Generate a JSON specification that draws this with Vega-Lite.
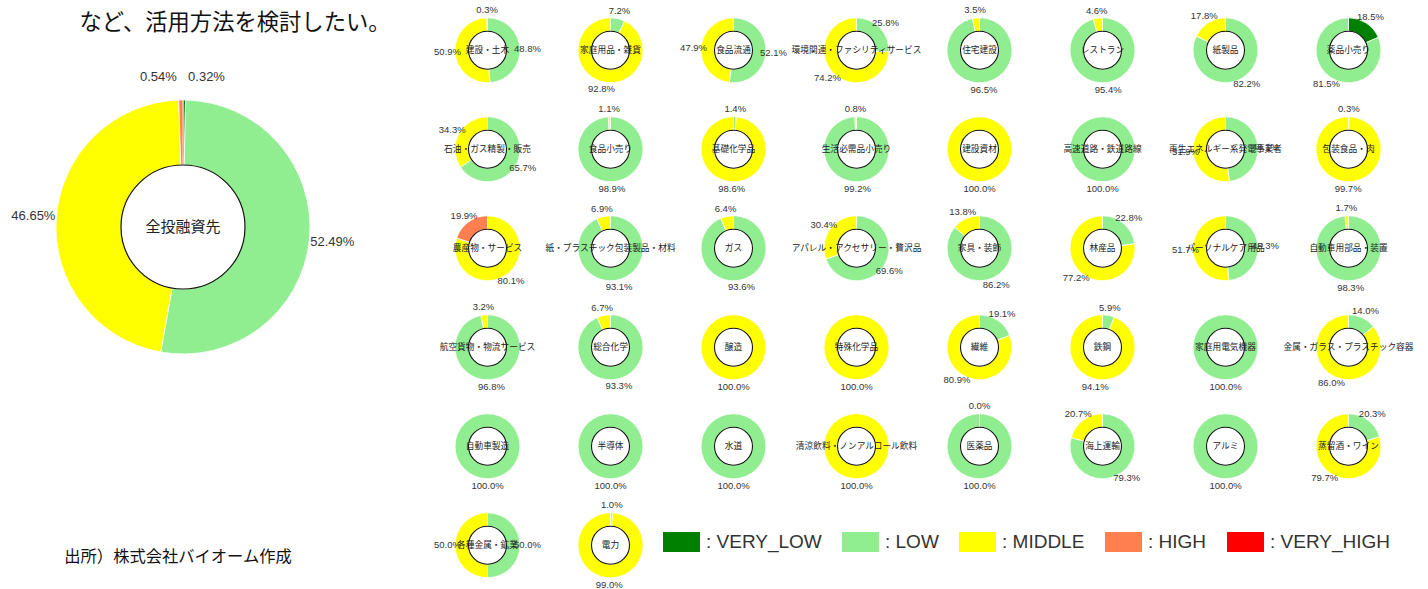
{
  "$schema": "https://vega.github.io/schema/vega-lite/v6.json",
  "padding": 0,
  "autosize": {"type": "pad"},
  "background": "white",
  "spacing": 30,
  "config": {
    "view": {"stroke": null},
    "header": {"labels": false, "title": null, "labelPadding": 0, "titlePadding": 0, "labelExpr": "''", "labelFontSize": 1},
    "headerFacet": {"labels": false, "title": null, "labelPadding": 0, "titlePadding": 0, "labelExpr": "''", "labelFontSize": 1}
  },
  "resolve": {"scale": {"color": "shared"}, "legend": {"color": "shared"}},
  "datasets": {
    "total": [
      {"industry": "全投融資先", "level": "VERY_LOW", "rank": 1, "pct": 0.0032},
      {"industry": "全投融資先", "level": "LOW", "rank": 2, "pct": 0.5249},
      {"industry": "全投融資先", "level": "MIDDLE", "rank": 3, "pct": 0.4665},
      {"industry": "全投融資先", "level": "HIGH", "rank": 4, "pct": 0.0054}
    ],
    "inds": [
      {"industry": "建設・土木", "level": "LOW", "rank": 2, "pct": 0.488},
      {"industry": "建設・土木", "level": "MIDDLE", "rank": 3, "pct": 0.509},
      {"industry": "建設・土木", "level": "HIGH", "rank": 4, "pct": 0.003},
      {"industry": "家庭用品・雑貨", "level": "LOW", "rank": 2, "pct": 0.072},
      {"industry": "家庭用品・雑貨", "level": "MIDDLE", "rank": 3, "pct": 0.928},
      {"industry": "食品流通", "level": "LOW", "rank": 2, "pct": 0.521},
      {"industry": "食品流通", "level": "MIDDLE", "rank": 3, "pct": 0.479},
      {"industry": "環境関連・ファシリティサービス", "level": "LOW", "rank": 2, "pct": 0.258},
      {"industry": "環境関連・ファシリティサービス", "level": "MIDDLE", "rank": 3, "pct": 0.742},
      {"industry": "住宅建設", "level": "LOW", "rank": 2, "pct": 0.965},
      {"industry": "住宅建設", "level": "MIDDLE", "rank": 3, "pct": 0.035},
      {"industry": "レストラン", "level": "LOW", "rank": 2, "pct": 0.954},
      {"industry": "レストラン", "level": "MIDDLE", "rank": 3, "pct": 0.046},
      {"industry": "紙製品", "level": "LOW", "rank": 2, "pct": 0.822},
      {"industry": "紙製品", "level": "MIDDLE", "rank": 3, "pct": 0.178},
      {"industry": "薬品小売り", "level": "VERY_LOW", "rank": 1, "pct": 0.185},
      {"industry": "薬品小売り", "level": "LOW", "rank": 2, "pct": 0.815},
      {"industry": "石油・ガス精製・販売", "level": "LOW", "rank": 2, "pct": 0.657},
      {"industry": "石油・ガス精製・販売", "level": "MIDDLE", "rank": 3, "pct": 0.343},
      {"industry": "食品小売り", "level": "LOW", "rank": 2, "pct": 0.989},
      {"industry": "食品小売り", "level": "MIDDLE", "rank": 3, "pct": 0.011},
      {"industry": "基礎化学品", "level": "LOW", "rank": 2, "pct": 0.014},
      {"industry": "基礎化学品", "level": "MIDDLE", "rank": 3, "pct": 0.986},
      {"industry": "生活必需品小売り", "level": "LOW", "rank": 2, "pct": 0.992},
      {"industry": "生活必需品小売り", "level": "MIDDLE", "rank": 3, "pct": 0.008},
      {"industry": "建設資材", "level": "MIDDLE", "rank": 3, "pct": 1.0},
      {"industry": "高速道路・鉄道路線", "level": "LOW", "rank": 2, "pct": 1.0},
      {"industry": "再生エネルギー系発電事業者", "level": "LOW", "rank": 2, "pct": 0.481},
      {"industry": "再生エネルギー系発電事業者", "level": "MIDDLE", "rank": 3, "pct": 0.519},
      {"industry": "包装食品・肉", "level": "LOW", "rank": 2, "pct": 0.003},
      {"industry": "包装食品・肉", "level": "MIDDLE", "rank": 3, "pct": 0.997},
      {"industry": "農産物・サービス", "level": "MIDDLE", "rank": 3, "pct": 0.801},
      {"industry": "農産物・サービス", "level": "HIGH", "rank": 4, "pct": 0.199},
      {"industry": "紙・プラスチック包装製品・材料", "level": "LOW", "rank": 2, "pct": 0.931},
      {"industry": "紙・プラスチック包装製品・材料", "level": "MIDDLE", "rank": 3, "pct": 0.069},
      {"industry": "ガス", "level": "LOW", "rank": 2, "pct": 0.936},
      {"industry": "ガス", "level": "MIDDLE", "rank": 3, "pct": 0.064},
      {"industry": "アパレル・アクセサリー・贅沢品", "level": "LOW", "rank": 2, "pct": 0.696},
      {"industry": "アパレル・アクセサリー・贅沢品", "level": "MIDDLE", "rank": 3, "pct": 0.304},
      {"industry": "家具・装飾", "level": "LOW", "rank": 2, "pct": 0.862},
      {"industry": "家具・装飾", "level": "MIDDLE", "rank": 3, "pct": 0.138},
      {"industry": "林産品", "level": "LOW", "rank": 2, "pct": 0.228},
      {"industry": "林産品", "level": "MIDDLE", "rank": 3, "pct": 0.772},
      {"industry": "パーソナルケア用品", "level": "LOW", "rank": 2, "pct": 0.483},
      {"industry": "パーソナルケア用品", "level": "MIDDLE", "rank": 3, "pct": 0.517},
      {"industry": "自動車用部品・装置", "level": "LOW", "rank": 2, "pct": 0.983},
      {"industry": "自動車用部品・装置", "level": "MIDDLE", "rank": 3, "pct": 0.017},
      {"industry": "航空貨物・物流サービス", "level": "LOW", "rank": 2, "pct": 0.968},
      {"industry": "航空貨物・物流サービス", "level": "MIDDLE", "rank": 3, "pct": 0.032},
      {"industry": "総合化学", "level": "LOW", "rank": 2, "pct": 0.933},
      {"industry": "総合化学", "level": "MIDDLE", "rank": 3, "pct": 0.067},
      {"industry": "醸造", "level": "MIDDLE", "rank": 3, "pct": 1.0},
      {"industry": "特殊化学品", "level": "MIDDLE", "rank": 3, "pct": 1.0},
      {"industry": "繊維", "level": "LOW", "rank": 2, "pct": 0.191},
      {"industry": "繊維", "level": "MIDDLE", "rank": 3, "pct": 0.809},
      {"industry": "鉄鋼", "level": "LOW", "rank": 2, "pct": 0.059},
      {"industry": "鉄鋼", "level": "MIDDLE", "rank": 3, "pct": 0.941},
      {"industry": "家庭用電気機器", "level": "LOW", "rank": 2, "pct": 1.0},
      {"industry": "金属・ガラス・プラスチック容器", "level": "LOW", "rank": 2, "pct": 0.14},
      {"industry": "金属・ガラス・プラスチック容器", "level": "MIDDLE", "rank": 3, "pct": 0.86},
      {"industry": "自動車製造", "level": "LOW", "rank": 2, "pct": 1.0},
      {"industry": "半導体", "level": "LOW", "rank": 2, "pct": 1.0},
      {"industry": "水道", "level": "LOW", "rank": 2, "pct": 1.0},
      {"industry": "清涼飲料・ノンアルコール飲料", "level": "MIDDLE", "rank": 3, "pct": 1.0},
      {"industry": "医薬品", "level": "LOW", "rank": 2, "pct": 1.0},
      {"industry": "医薬品", "level": "MIDDLE", "rank": 3, "pct": 0.0},
      {"industry": "海上運輸", "level": "LOW", "rank": 2, "pct": 0.793},
      {"industry": "海上運輸", "level": "MIDDLE", "rank": 3, "pct": 0.207},
      {"industry": "アルミ", "level": "LOW", "rank": 2, "pct": 1.0},
      {"industry": "蒸留酒・ワイン", "level": "LOW", "rank": 2, "pct": 0.203},
      {"industry": "蒸留酒・ワイン", "level": "MIDDLE", "rank": 3, "pct": 0.797},
      {"industry": "各種金属・鉱業", "level": "LOW", "rank": 2, "pct": 0.5},
      {"industry": "各種金属・鉱業", "level": "MIDDLE", "rank": 3, "pct": 0.5},
      {"industry": "電力", "level": "LOW", "rank": 2, "pct": 0.01},
      {"industry": "電力", "level": "MIDDLE", "rank": 3, "pct": 0.99}
    ]
  },
  "hconcat": [
    {
      "spacing": 0,
      "bounds": "flush",
      "vconcat": [
        {
          "width": 396,
          "height": 44,
          "data": {"values": [{"t": "など、活用方法を検討したい。"}]},
          "mark": {"type": "text", "font": "Noto Sans CJK JP", "fontSize": 22.3, "fill": "#111", "dx": 37},
          "encoding": {"text": {"field": "t", "type": "nominal"}}
        },
        {
          "width": 366,
          "height": 364,
          "data": {"name": "total"},
          "layer": [
            {
              "mark": {"type": "arc", "outerRadius": 127, "innerRadius": 62, "stroke": "white", "strokeWidth": 0.8},
              "encoding": {
                "theta": {"field": "pct", "type": "quantitative", "stack": true, "scale": {"domain": [0, 1]}},
                "order": {"field": "rank", "type": "quantitative"},
                "color": {
                  "field": "level", "type": "nominal",
                  "scale": {"domain": ["VERY_LOW", "LOW", "MIDDLE", "HIGH", "VERY_HIGH"], "range": ["#008000", "#90EE90", "#FFFF00", "#FF7F50", "#FF0000"]},
                  "legend": {"orient": "none", "legendX": 663, "legendY": 531, "direction": "horizontal", "title": null, "symbolType": "M-1,-1H2.7V1H-1Z", "symbolSize": 400, "symbolStrokeWidth": 0, "symbolOpacity": 1, "labelFont": "Liberation Sans", "labelFontSize": 19, "labelColor": "#333", "labelOffset": 23, "columnPadding": 20, "labelLimit": 300, "labelExpr": "': ' + datum.label"}
                }
              }
            },
            {
              "transform": [{"aggregate": [{"op": "count", "as": "n"}], "groupby": ["industry"]}],
              "mark": {"type": "point", "shape": "circle", "size": 15376, "filled": true, "fill": "white", "stroke": "#111", "strokeWidth": 1.2, "opacity": 1},
              "encoding": {}
            },
            {
              "transform": [{"aggregate": [{"op": "count", "as": "n"}], "groupby": ["industry"]}],
              "mark": {"type": "text", "font": "Noto Sans CJK JP", "fontSize": 15, "fill": "#222"},
              "encoding": {"text": {"field": "industry", "type": "nominal"}}
            },
            {
              "mark": {"type": "text", "radius": 150, "font": "Liberation Sans", "fontSize": 13, "fill": "#333"},
              "encoding": {
                "theta": {"field": "pct", "type": "quantitative", "stack": true, "scale": {"domain": [0, 1]}},
                "order": {"field": "rank", "type": "quantitative"},
                "text": {"condition": {"test": "datum.level === 'VERY_LOW' || datum.level === 'HIGH'", "value": ""}, "field": "pct", "type": "quantitative", "format": ".2%"}
              }
            },
            {
              "mark": {"type": "text", "radius": 150, "font": "Liberation Sans", "fontSize": 13, "fill": "#333", "dx": 22},
              "encoding": {
                "theta": {"field": "pct", "type": "quantitative", "stack": true, "scale": {"domain": [0, 1]}},
                "order": {"field": "rank", "type": "quantitative"},
                "text": {"condition": {"test": "datum.level !== 'VERY_LOW'", "value": ""}, "field": "pct", "type": "quantitative", "format": ".2%"}
              }
            },
            {
              "mark": {"type": "text", "radius": 150, "font": "Liberation Sans", "fontSize": 13, "fill": "#333", "dx": -22},
              "encoding": {
                "theta": {"field": "pct", "type": "quantitative", "stack": true, "scale": {"domain": [0, 1]}},
                "order": {"field": "rank", "type": "quantitative"},
                "text": {"condition": {"test": "datum.level !== 'HIGH'", "value": ""}, "field": "pct", "type": "quantitative", "format": ".2%"}
              }
            }
          ]
        },
        {
          "width": 366,
          "height": 181,
          "data": {"values": [{"t": "出所）株式会社バイオーム作成"}]},
          "mark": {"type": "text", "font": "Noto Sans CJK JP", "fontSize": 16.3, "fill": "#111", "dx": -5, "dy": 57},
          "encoding": {"text": {"field": "t", "type": "nominal"}}
        }
      ]
    },
    {
      "data": {"name": "inds"},
      "columns": 8,
      "spacing": 0,
      "bounds": "flush",
      "facet": {
        "field": "industry", "type": "nominal", "title": null,
        "header": {"labels": false, "title": null, "labelExpr": "''", "labelFontSize": 1, "labelPadding": 0, "titlePadding": 0},
        "sort": ["建設・土木", "家庭用品・雑貨", "食品流通", "環境関連・ファシリティサービス", "住宅建設", "レストラン", "紙製品", "薬品小売り",
                 "石油・ガス精製・販売", "食品小売り", "基礎化学品", "生活必需品小売り", "建設資材", "高速道路・鉄道路線", "再生エネルギー系発電事業者", "包装食品・肉",
                 "農産物・サービス", "紙・プラスチック包装製品・材料", "ガス", "アパレル・アクセサリー・贅沢品", "家具・装飾", "林産品", "パーソナルケア用品", "自動車用部品・装置",
                 "航空貨物・物流サービス", "総合化学", "醸造", "特殊化学品", "繊維", "鉄鋼", "家庭用電気機器", "金属・ガラス・プラスチック容器",
                 "自動車製造", "半導体", "水道", "清涼飲料・ノンアルコール飲料", "医薬品", "海上運輸", "アルミ", "蒸留酒・ワイン",
                 "各種金属・鉱業", "電力"]
      },
      "spec": {
        "width": 123,
        "height": 98.5,
        "layer": [
          {
            "mark": {"type": "arc", "outerRadius": 32.5, "innerRadius": 19, "stroke": "white", "strokeWidth": 0.8},
            "encoding": {
              "theta": {"field": "pct", "type": "quantitative", "stack": true, "scale": {"domain": [0, 1]}},
              "order": {"field": "rank", "type": "quantitative"},
              "color": {
                "field": "level", "type": "nominal",
                "scale": {"domain": ["VERY_LOW", "LOW", "MIDDLE", "HIGH", "VERY_HIGH"], "range": ["#008000", "#90EE90", "#FFFF00", "#FF7F50", "#FF0000"]},
                "legend": {"orient": "none", "legendX": 663, "legendY": 531, "direction": "horizontal", "title": null, "symbolType": "M-1,-1H2.7V1H-1Z", "symbolSize": 400, "symbolStrokeWidth": 0, "symbolOpacity": 1, "labelFont": "Liberation Sans", "labelFontSize": 19, "labelColor": "#333", "labelOffset": 23, "columnPadding": 20, "labelLimit": 300, "labelExpr": "': ' + datum.label"}
              }
            }
          },
          {
            "transform": [{"aggregate": [{"op": "count", "as": "n"}], "groupby": ["industry"]}],
            "mark": {"type": "point", "shape": "circle", "size": 1444, "filled": true, "fill": "white", "stroke": "#111", "strokeWidth": 1.1, "opacity": 1},
            "encoding": {}
          },
          {
            "transform": [{"aggregate": [{"op": "count", "as": "n"}], "groupby": ["industry"]}],
            "mark": {"type": "text", "font": "Noto Sans CJK JP", "fontSize": 8.7, "fill": "#222"},
            "encoding": {"text": {"field": "industry", "type": "nominal"}}
          },
          {
            "mark": {"type": "text", "radius": 40, "font": "Liberation Sans", "fontSize": 9.5, "fill": "#333"},
            "encoding": {
              "theta": {"field": "pct", "type": "quantitative", "stack": true, "scale": {"domain": [0, 1]}},
              "order": {"field": "rank", "type": "quantitative"},
              "text": {"field": "pct", "type": "quantitative", "format": ".1%"}
            }
          }
        ]
      }
    }
  ]
}
